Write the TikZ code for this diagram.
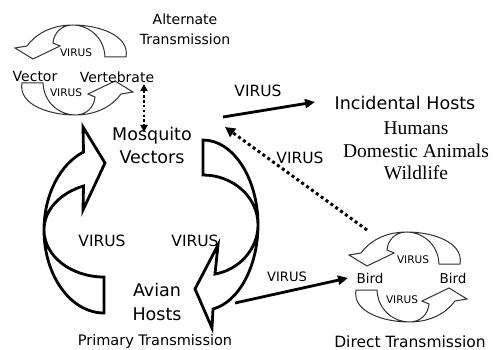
\documentclass[tikz,border=0pt]{standalone}
\usepackage{fontspec}
\setmainfont{DejaVu Sans}
\newfontfamily\hostfont{Liberation Serif}
\usetikzlibrary{positioning,arrows.meta}

\newcommand{\virusarc}{\draw[smallarrow] (-52,13) .. controls (-56,35) and (-24,45) .. (1,45)
  .. controls (24,45) and (39,35) .. (47,24) -- (59,22) -- (41,11) -- (14,24) -- (21,27)
  .. controls (20,38) and (12,45) .. (1,45) .. controls (-12,45) and (-30,35) .. (-31,13) -- cycle;}

\begin{document}
\begin{tikzpicture}[x=1pt,y=-1pt,
bigarrow/.style={draw,line width=2.8pt,fill=white},
smallarrow/.style={draw=black!80,line width=1pt,fill=white},
solidarrow/.style={line width=2.8pt,-{Triangle[length=10pt,width=9pt]}},
dotarrow/.style={line width=3pt,dash pattern=on 3pt off 3pt,-{Triangle[length=10pt,width=10pt]}},
bigtext/.style={font=\fontsize{17.5}{23.5}\selectfont,align=center},
captext/.style={font=\fontsize{14}{20}\selectfont,align=center},
virus/.style={font=\fontsize{15.5}{18}\selectfont},
smallvirus/.style={font=\fontsize{10.5}{12}\selectfont}]

\fill[white] (0,0) rectangle (493,350);
\useasboundingbox (0,0) rectangle (493,350);

\draw[bigarrow] (104,313) .. controls (71,313) and (44,276) .. (44,230)
  .. controls (44,195) and (60,164) .. (83.5,152) -- (83,127) -- (105,163) -- (83,210) -- (83.5,186)
  .. controls (60,193) and (44,210) .. (44,230) .. controls (44,256) and (71,277) .. (104,277) -- cycle;
\draw[bigarrow] (203,140) .. controls (233,140) and (258,178) .. (258,225)
  .. controls (258,266) and (239,302) .. (213,309) -- (212,328) -- (195,289) -- (218,245) -- (215,274)
  .. controls (239,270) and (258,249) .. (258,225) .. controls (258,197) and (233,175) .. (203,175) -- cycle;

\begin{scope}[shift={(74,70)}] \virusarc \end{scope}
\begin{scope}[shift={(74,70)},rotate=180] \virusarc \end{scope}
\begin{scope}[shift={(408,277)}] \virusarc \end{scope}
\begin{scope}[shift={(408,277)},rotate=180] \virusarc \end{scope}

\node[bigtext] (mosq) at (152,145.5) {Mosquito\\Vectors};
\node[bigtext] (avian) at (157,302) {Avian\\Hosts};
\node[captext,font=\fontsize{14.5}{20}\selectfont,inner sep=0pt] (primary) at (155,341.5) {Primary Transmission};
\node[bigtext] (incid) at (405,103) {Incidental Hosts};
\node[align=center,font=\hostfont\fontsize{19.5}{22.5}\selectfont] (hostlist) at (416,151) {Humans\\Domestic Animals\\Wildlife};
\node[captext] (alttitle) at (185,29.7) {Alternate\\Transmission};
\node[captext] (vector) at (35,76.8) {Vector};
\node[captext] (vertebrate) at (117,76.8) {Vertebrate};
\node[captext,font=\fontsize{13.5}{16}\selectfont] (birda) at (370,278) {Bird};
\node[captext,font=\fontsize{13.5}{16}\selectfont] (birdb) at (453,278) {Bird};
\node[captext,font=\fontsize{15.5}{20}\selectfont,inner sep=0pt] (direct) at (410,341.5) {Direct Transmission};

\node[virus] (vleft) at (102,241) {VIRUS};
\node[virus] (vright) at (195,241) {VIRUS};
\node[virus] (vinc) at (258,91) {VIRUS};
\node[virus] (vdot) at (300,158) {VIRUS};
\node[virus,font=\fontsize{13}{16}\selectfont] (vbird) at (287,277) {VIRUS};
\node[smallvirus] (vaup) at (76,53) {VIRUS};
\node[smallvirus] (vadown) at (66,93) {VIRUS};
\node[smallvirus] (vbup) at (413,260) {VIRUS};
\node[smallvirus] (vbdown) at (402,300) {VIRUS};

\coordinate (mosqout) at (223,117);
\coordinate (incin) at (315,102);
\coordinate (birdout) at (367,230);
\coordinate (mosqin) at (225,127);
\coordinate (avianout) at (235,303);
\coordinate (birdin) at (348,278);
\coordinate (verttop) at (144,84);
\coordinate (vertbot) at (144,132);

\draw[solidarrow] (mosqout) -- (incin);
\draw[dotarrow] (birdout) -- (mosqin);
\draw[solidarrow] (avianout) -- (birdin);
\draw[line width=2.4pt,dash pattern=on 2.4pt off 2.4pt,{Triangle[length=7pt,width=7pt]}-{Triangle[length=7pt,width=7pt]}] (verttop) -- (vertbot);

\end{tikzpicture}
\end{document}
